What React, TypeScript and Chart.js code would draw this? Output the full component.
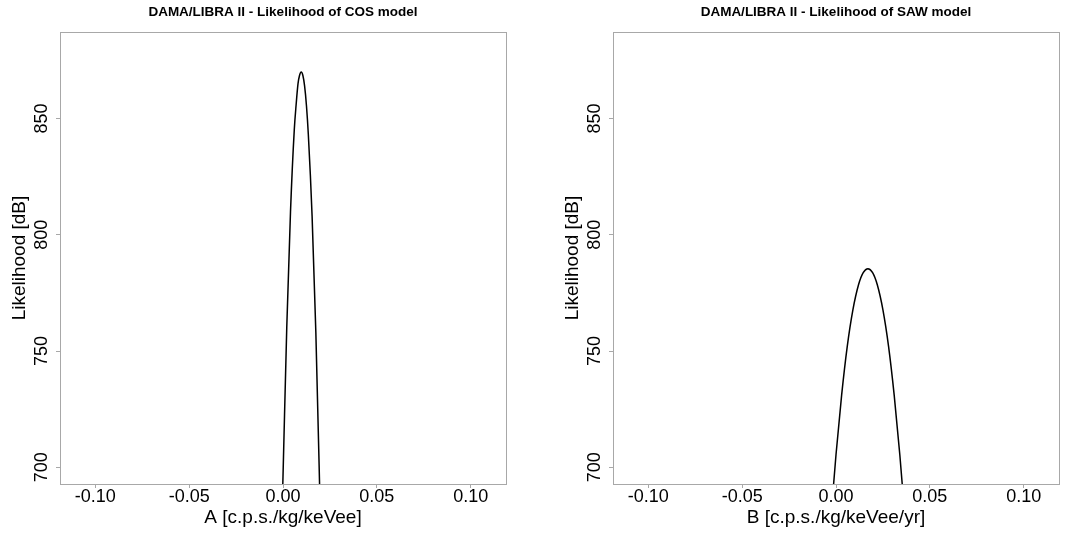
import React, { useEffect, useRef } from "react";
import { Chart, registerables } from "chart.js";

Chart.register(...registerables);

// COS model: likelihood [dB] vs amplitude A
const cosA = [-0.0004, 0.0, 0.002, 0.004, 0.006, 0.007, 0.008, 0.0088, 0.0097, 0.0106, 0.0115, 0.0125, 0.0135, 0.0155, 0.0175, 0.0195, 0.02];
const cosLik = [684, 696, 760, 810, 845, 856, 865, 868.5, 870, 868.5, 864, 855.5, 843, 808, 758, 692, 674];

// SAW model: likelihood [dB] vs slope B
const sawB = [-0.002, 0.0, 0.003, 0.006, 0.009, 0.012, 0.0145, 0.017, 0.0195, 0.022, 0.025, 0.028, 0.031, 0.034, 0.036];
const sawLik = [685.4, 705.4, 731, 752, 767.7, 778.5, 783.7, 785.4, 783.7, 778.5, 767.7, 752, 731, 705.4, 685.4];

const xTicks = [-0.1, -0.05, 0.0, 0.05, 0.1];
const yTicks = [700, 750, 800, 850];
const xRange = [-0.1188, 0.1188];
const yRange = [692.8, 887.2];

const titles = ["DAMA/LIBRA II - Likelihood of COS model", "DAMA/LIBRA II - Likelihood of SAW model"];
const xLabels = ["A [c.p.s./kg/keVee]", "B [c.p.s./kg/keVee/yr]"];
const yLabel = "Likelihood [dB]";

const FONT = "'Liberation Sans', Arial, Helvetica, sans-serif";
const GRAY = "#a8a8a8";

const boxPlugin = {
  id: "plotBox",
  beforeDatasetsDraw(chart: any) {
    const { ctx, chartArea } = chart;
    const l = Math.round(chartArea.left) + 0.5;
    const t = Math.round(chartArea.top) + 0.5;
    const r = Math.round(chartArea.right) + 0.5;
    const b = Math.round(chartArea.bottom) + 0.5;
    ctx.save();
    ctx.strokeStyle = GRAY;
    ctx.lineWidth = 1;
    ctx.strokeRect(l, t, r - l, b - t);
    ctx.restore();
  },
};

const fmt = (v: number) => (Math.abs(v) < 1e-9 ? "0.00" : v.toFixed(2));

function Panel(props: {
  title: string;
  xLabel: string;
  xs: number[];
  ys: number[];
  left: number;
  width: number;
  padRight: number;
}) {
  const ref = useRef<HTMLCanvasElement>(null);
  useEffect(() => {
    const chart = new Chart(ref.current as HTMLCanvasElement, {
      type: "line",
      data: {
        datasets: [
          {
            data: props.xs.map((x, i) => ({ x, y: props.ys[i] })),
            borderColor: "#000000",
            borderWidth: 1.5,
            pointRadius: 0,
            cubicInterpolationMode: "monotone",
            clip: 0,
            fill: false,
          } as any,
        ],
      },
      options: {
        animation: false,
        responsive: false,
        maintainAspectRatio: false,
        layout: { padding: { left: 0, right: props.padRight, top: 0, bottom: 0 } },
        plugins: {
          legend: { display: false },
          tooltip: { enabled: false },
          title: {
            display: true,
            text: props.title,
            fullSize: false,
            color: "#000000",
            font: { family: FONT, size: 13.5, weight: "bold" },
            padding: { top: 3.9, bottom: 11.9 },
          },
        },
        scales: {
          x: {
            type: "linear",
            min: xRange[0],
            max: xRange[1],
            afterBuildTicks: (s: any) => {
              s.ticks = xTicks.map((v) => ({ value: v }));
            },
            afterFit: (s: any) => {
              s.height = 49;
            },
            border: { display: false },
            grid: { display: true, drawOnChartArea: false, drawTicks: true, tickLength: 4, color: GRAY },
            ticks: {
              color: "#000000",
              font: { family: FONT, size: 18 },
              padding: -2,
              maxRotation: 0,
              autoSkip: false,
              callback: (v: any) => fmt(Number(v)),
            },
            title: {
              display: true,
              text: props.xLabel,
              color: "#000000",
              font: { family: FONT, size: 19 },
              padding: { top: 0, bottom: 3.6 },
            },
          },
          y: {
            type: "linear",
            min: yRange[0],
            max: yRange[1],
            afterBuildTicks: (s: any) => {
              s.ticks = yTicks.map((v) => ({ value: v }));
            },
            afterFit: (s: any) => {
              s.width = 60;
            },
            border: { display: false },
            grid: { display: true, drawOnChartArea: false, drawTicks: true, tickLength: 4, color: GRAY },
            ticks: {
              color: "#000000",
              font: { family: FONT, size: 18 },
              padding: -1,
              minRotation: 90,
              maxRotation: 90,
              crossAlign: "center",
              autoSkip: false,
              callback: (v: any) => String(Math.round(Number(v))),
            },
            title: {
              display: true,
              text: yLabel,
              color: "#000000",
              font: { family: FONT, size: 19 },
              padding: { top: 8.6, bottom: 0 },
            },
          },
        },
      } as any,
      plugins: [boxPlugin],
    });
    return () => chart.destroy();
  }, []);
  return (
    <canvas
      ref={ref}
      width={props.width}
      height={533}
      style={{ position: "absolute", left: props.left, top: 0, width: props.width, height: 533 }}
    />
  );
}

export default function App() {
  return (
    <div style={{ position: "fixed", left: 0, top: 0, width: 1079, height: 533, background: "#ffffff" }}>
      <Panel title={titles[0]} xLabel={xLabels[0]} xs={cosA} ys={cosLik} left={0} width={540} padRight={34} />
      <Panel title={titles[1]} xLabel={xLabels[1]} xs={sawB} ys={sawLik} left={553} width={526} padRight={20} />
    </div>
  );
}
